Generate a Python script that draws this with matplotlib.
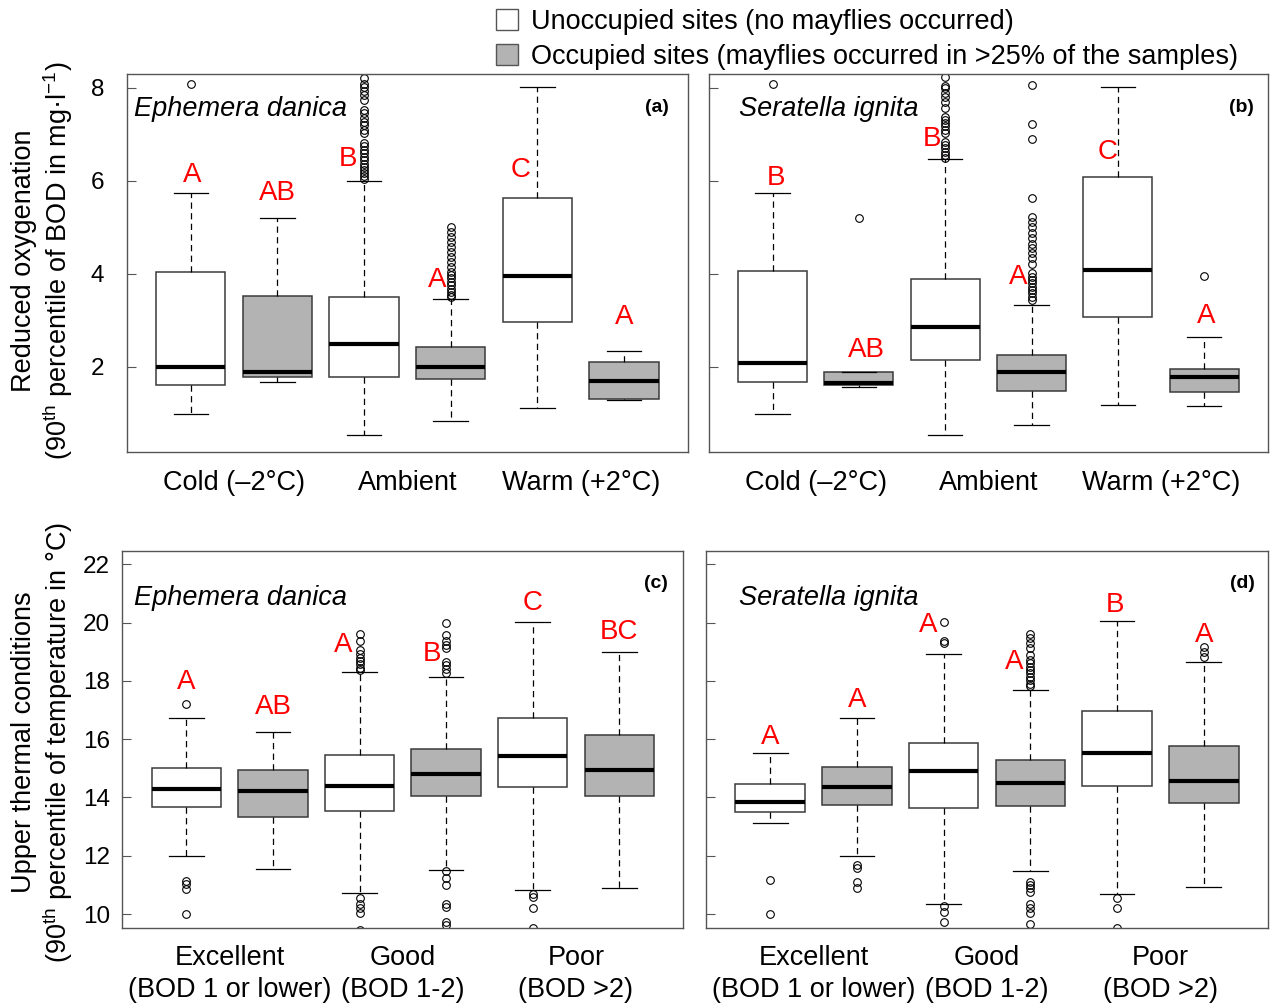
import matplotlib
matplotlib.use("Agg")
import matplotlib.pyplot as plt
from matplotlib.patches import Patch

plt.rcParams['font.family'] = ['Liberation Sans', 'DejaVu Sans']
plt.rcParams['mathtext.fontset'] = 'custom'
plt.rcParams['mathtext.rm'] = 'Liberation Sans'
plt.rcParams['mathtext.it'] = 'Liberation Sans:italic'
plt.rcParams['mathtext.bf'] = 'Liberation Sans:bold'

# ---------------- data ----------------
temp_labels = ["Cold (\u20132\u00b0C)", "Ambient", "Warm (+2\u00b0C)"]
bod_labels = ["Excellent\n(BOD 1 or lower)", "Good\n(BOD 1-2)", "Poor\n(BOD >2)"]
species = ["Ephemera danica", "Seratella ignita"]
panel_tags = ["(a)", "(b)", "(c)", "(d)"]
legend_labels = ["Unoccupied sites (no mayflies occurred)",
                 "Occupied sites (mayflies occurred in >25% of the samples)"]
occupied = [False, True, False, True, False, True]

# Panel (a): Ephemera danica, BOD by temperature
a_lo = [0.98, 1.68, 0.52, 0.82, 1.10, 1.28]
a_q1 = [1.60, 1.78, 1.78, 1.73, 2.96, 1.31]
a_med = [2.00, 1.88, 2.49, 2.00, 3.96, 1.70]
a_q3 = [4.04, 3.53, 3.50, 2.42, 5.64, 2.11]
a_hi = [5.74, 5.20, 6.00, 3.45, 8.03, 2.33]
a_out = [
    [8.09],
    [],
    [8.22, 8.09, 8.01, 7.94, 7.84, 7.75, 7.53, 7.45, 7.35, 7.27, 7.20, 7.10, 7.02,
     6.82, 6.75, 6.66, 6.59, 6.52, 6.44, 6.37, 6.30, 6.23, 6.16, 6.10, 6.05],
    [5.01, 4.90, 4.80, 4.69, 4.58, 4.47, 4.37, 4.26, 4.15, 4.04, 3.97, 3.90, 3.83,
     3.76, 3.68, 3.61, 3.55, 3.49],
    [],
    [],
]
a_letters = ["A", "AB", "B", "A", "C", "A"]
a_letter_y = [6.12, 5.73, 6.48, 3.86, 6.23, 3.07]
a_letter_dx = [0.02, 0.0, -0.19, -0.16, -0.20, 0.0]

# Panel (b): Seratella ignita, BOD by temperature
b_lo = [0.98, 1.57, 0.52, 0.74, 1.18, 1.15]
b_q1 = [1.68, 1.60, 2.14, 1.47, 3.07, 1.45]
b_med = [2.08, 1.65, 2.86, 1.88, 4.09, 1.78]
b_q3 = [4.06, 1.88, 3.89, 2.26, 6.09, 1.94]
b_hi = [5.74, 1.88, 6.46, 3.33, 8.02, 2.64]
b_out = [
    [8.09],
    [5.20],
    [8.24, 8.04, 7.99, 7.88, 7.81, 7.70, 7.56, 7.38, 7.31, 7.25, 7.18, 7.10, 7.03,
     6.84, 6.77, 6.70, 6.63, 6.55, 6.50],
    [8.06, 7.22, 6.91, 5.62, 5.23, 5.12, 5.01, 4.87, 4.76, 4.65, 4.55, 4.44, 4.33,
     4.22, 4.01, 3.94, 3.87, 3.80, 3.72, 3.65, 3.58, 3.51, 3.44],
    [],
    [3.96],
]
b_letters = ["B", "AB", "B", "A", "C", "A"]
b_letter_y = [6.07, 2.35, 6.91, 3.93, 6.63, 3.08]
b_letter_dx = [0.04, 0.09, -0.15, -0.15, -0.12, 0.02]

# Panel (c): Ephemera danica, temperature by BOD class
c_lo = [12.00, 11.55, 10.72, 11.51, 10.84, 10.88]
c_q1 = [13.68, 13.34, 13.55, 14.04, 14.35, 14.04]
c_med = [14.30, 14.23, 14.39, 14.80, 15.42, 14.96]
c_q3 = [15.02, 14.95, 15.46, 15.66, 16.74, 16.16]
c_hi = [16.74, 16.26, 18.29, 18.12, 20.04, 18.99]
c_out = [
    [17.21, 11.15, 11.02, 10.87, 10.00],
    [],
    [19.61, 19.37, 19.06, 18.92, 18.79, 18.68, 18.57, 18.45, 18.37,
     10.54, 10.36, 10.19, 10.05, 9.45],
    [19.99, 19.57, 19.38, 19.23, 19.12, 18.66, 18.54, 18.40, 18.26,
     11.48, 11.22, 11.00, 10.36, 10.25, 9.74, 9.62],
    [10.70, 10.58, 10.20, 9.52],
    [],
]
c_letters = ["A", "AB", "A", "B", "C", "BC"]
c_letter_y = [17.97, 17.09, 19.25, 18.92, 20.66, 19.69]
c_letter_dx = [0.0, 0.0, -0.19, -0.16, 0.0, 0.0]

# Panel (d): Seratella ignita, temperature by BOD class
d_lo = [13.13, 12.00, 10.36, 11.47, 10.67, 10.92]
d_q1 = [13.49, 13.74, 13.64, 13.70, 14.41, 13.80]
d_med = [13.83, 14.35, 14.91, 14.51, 15.54, 14.56]
d_q3 = [14.45, 15.05, 15.87, 15.29, 16.98, 15.78]
d_hi = [15.51, 16.74, 18.92, 17.70, 20.05, 18.64]
d_out = [
    [11.16, 10.00],
    [11.68, 11.57, 11.10, 10.88],
    [20.01, 19.37, 19.29, 10.27, 10.08, 9.73],
    [19.61, 19.46, 19.29, 19.12, 18.89, 18.71, 18.60, 18.48, 18.37, 18.26, 18.14,
     18.03, 17.91, 17.82, 11.10, 10.99, 10.88, 10.77, 10.36, 10.19, 10.02, 9.65],
    [10.56, 10.19, 9.53],
    [19.17, 19.00, 18.83],
]
d_letters = ["A", "A", "A", "A", "B", "A"]
d_letter_y = [16.08, 17.34, 19.92, 18.66, 20.60, 19.57]
d_letter_dx = [0.0, 0.0, -0.18, -0.19, -0.02, 0.0]

bod_ticks = [2, 4, 6, 8]
temp_ticks = [10, 12, 14, 16, 18, 20, 22]

# ---------------- styling ----------------
W, H = 1270, 1006
fig = plt.figure(figsize=(W / 100, H / 100), dpi=100)
FILL_OCC = '#b3b3b3'
EDGE = '#3a3a3a'
FRAME = '#555555'


def add_ax(l, r, t, b):
    return fig.add_axes([l / W, 1 - b / H, (r - l) / W, (b - t) / H])


def draw_panel(ax, lo, q1, med, q3, hi, out, letters, ly, ldx, ylim, yticks,
               xlabels, show_ylabels, ypad, xpad, name, name_xy, tag, tag_xy):
    stats = []
    for i in range(len(med)):
        stats.append(dict(med=med[i], q1=q1[i], q3=q3[i], whislo=lo[i],
                          whishi=hi[i], fliers=out[i]))
    pos = list(range(1, len(med) + 1))
    bp = ax.bxp(stats, positions=pos, widths=0.8, patch_artist=True,
                boxprops=dict(edgecolor=EDGE, linewidth=1.1),
                medianprops=dict(color='black', linewidth=3.0,
                                 solid_capstyle='butt'),
                whiskerprops=dict(color='black', linewidth=0.9,
                                  linestyle=(0, (5, 3.5))),
                capprops=dict(color='black', linewidth=0.9),
                flierprops=dict(marker='o', markerfacecolor='none',
                                markeredgecolor='black', markersize=5.5,
                                markeredgewidth=0.8, linestyle='none'))
    for patch, occ in zip(bp['boxes'], occupied):
        patch.set_facecolor(FILL_OCC if occ else 'white')
    for p, t, y, dx in zip(pos, letters, ly, ldx):
        ax.text(p + dx, y, t, color='red', fontsize=20, ha='center',
                va='center')
    ax.set_xlim(0.26, 6.74)
    ax.set_ylim(*ylim)
    ax.set_yticks(yticks)
    ax.tick_params(axis='y', direction='in', length=6.5, width=0.8,
                   color=FRAME, labelsize=17.5, pad=ypad,
                   labelleft=show_ylabels)
    ax.set_xticks([1.5, 3.5, 5.5])
    ax.set_xticklabels(xlabels, linespacing=1.3)
    ax.tick_params(axis='x', length=0, labelsize=19.5, pad=xpad)
    for s in ax.spines.values():
        s.set_color(FRAME)
        s.set_linewidth(1.0)
    ax.text(name_xy[0], name_xy[1], name, transform=ax.transAxes,
            fontsize=19.5, style='italic', ha='left', va='center')
    ax.text(tag_xy[0], tag_xy[1], tag, transform=ax.transAxes,
            fontsize=14, fontweight='bold', ha='right', va='center')


ax_a = add_ax(126.7, 688.3, 73.5, 451.7)
ax_b = add_ax(708.7, 1268, 73.5, 451.7)
ax_c = add_ax(122.3, 683.3, 551, 928)
ax_d = add_ax(706, 1268, 551, 928)

draw_panel(ax_a, a_lo, a_q1, a_med, a_q3, a_hi, a_out, a_letters, a_letter_y,
           a_letter_dx, (0.17, 8.31), bod_ticks, temp_labels, True, 16, 13.5,
           species[0], (0.013, 0.907), panel_tags[0], (0.966, 0.910))
draw_panel(ax_b, b_lo, b_q1, b_med, b_q3, b_hi, b_out, b_letters, b_letter_y,
           b_letter_dx, (0.17, 8.31), bod_ticks, temp_labels, False, 16, 13.5,
           species[1], (0.054, 0.907), panel_tags[1], (0.975, 0.910))
draw_panel(ax_c, c_lo, c_q1, c_med, c_q3, c_hi, c_out, c_letters, c_letter_y,
           c_letter_dx, (9.52, 22.46), temp_ticks, bod_labels, True, 9, 12.5,
           species[0], (0.021, 0.875), panel_tags[2], (0.973, 0.914))
draw_panel(ax_d, d_lo, d_q1, d_med, d_q3, d_hi, d_out, d_letters, d_letter_y,
           d_letter_dx, (9.52, 22.46), temp_ticks, bod_labels, False, 9, 12.5,
           species[1], (0.059, 0.875), panel_tags[3], (0.977, 0.914))

# y-axis titles
fig.text(43 / W, 1 - 261 / H,
         "Reduced oxygenation\n(90$^{\\mathrm{th}}$ percentile of BOD in mg\u00b7l$^{\\mathrm{-1}}$)",
         rotation=90, ha='center', va='center', multialignment='center',
         fontsize=19.5, linespacing=1.15)
fig.text(43 / W, 1 - 742 / H,
         "Upper thermal conditions\n(90$^{\\mathrm{th}}$ percentile of temperature in \u00b0C)",
         rotation=90, ha='center', va='center', multialignment='center',
         fontsize=19.5, linespacing=1.15)

# legend
handles = [Patch(facecolor='white', edgecolor='#555555', linewidth=1.0),
           Patch(facecolor=FILL_OCC, edgecolor='#555555', linewidth=1.0)]
fig.legend(handles=handles, labels=legend_labels, loc='upper left',
           bbox_to_anchor=(496 / W, 1 - 9 / H), frameon=False, fontsize=19.5,
           handlelength=0.8, handleheight=0.8, handletextpad=0.5,
           labelspacing=0.33, borderpad=0, borderaxespad=0)

fig.savefig("out.png", dpi=100)
